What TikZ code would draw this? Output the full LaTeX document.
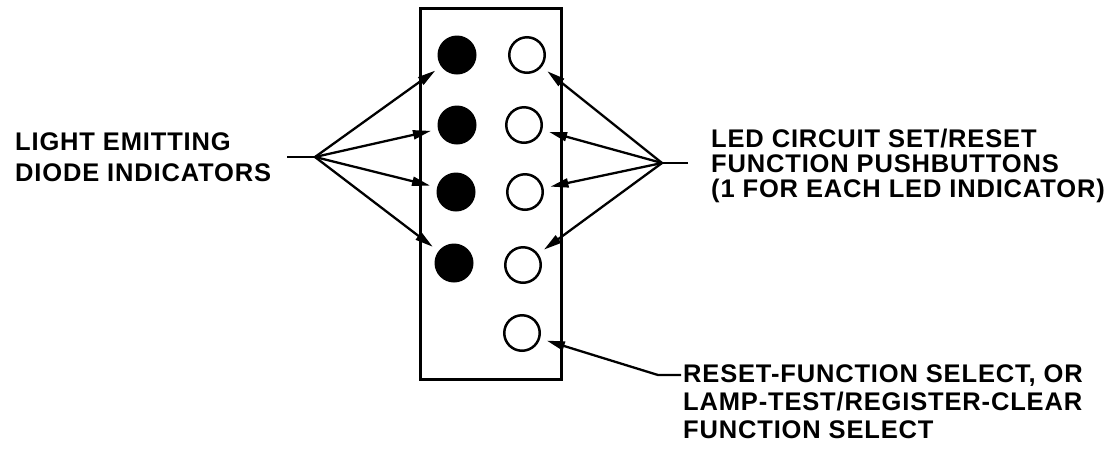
\documentclass[tikz,border=0pt]{standalone}
\usepackage{fontspec}
\setmainfont{Liberation Sans}
\newfontfamily\lblfont[LetterSpace=3.3]{Liberation Sans Bold}
\usetikzlibrary{arrows.meta}
\begin{document}
\begin{tikzpicture}[x=1pt,y=-1pt,
  led/.style={circle,fill=black,minimum size=39pt,inner sep=0pt},
  pb/.style={circle,draw=black,line width=2.5pt,minimum size=35.5pt,inner sep=0pt},
  ptr/.style={line width=2.3pt,-{Triangle[length=18pt,width=9pt]},shorten >=7pt},
  lead/.style={line width=2.3pt},
  lbl/.style={font=\lblfont\fontsize{25.5}{26}\selectfont,anchor=base west,inner sep=0pt}]
\path[fill=white] (0,0) rectangle (1109,451);
\useasboundingbox (0,0) rectangle (1109,451);
% panel
\node[draw,line width=3pt,minimum width=141pt,minimum height=371pt,inner sep=0pt] (panel) at (490.5,193.5) {};
% LEDs
\node[led] (d1) at (457,55) {};
\node[led] (d2) at (457,125) {};
\node[led] (d3) at (456,192) {};
\node[led] (d4) at (454,263) {};
% pushbuttons
\node[pb] (p1) at (527,55) {};
\node[pb] (p2) at (524,125) {};
\node[pb] (p3) at (525,192) {};
\node[pb] (p4) at (523,265) {};
\node[pb] (p5) at (522,333) {};
% labels
\node[lbl] (t1a) at (15,150) {LIGHT EMITTING};
\node[lbl] (t1b) at (15,181) {DIODE INDICATORS};
\node[lbl] (t2a) at (711,147) {LED CIRCUIT SET/RESET};
\node[lbl] (t2b) at (711,172) {FUNCTION PUSHBUTTONS};
\node[lbl] (t2c) at (711,197) {(1 FOR EACH LED INDICATOR)};
\node[lbl] (t3a) at (683,382) {RESET-FUNCTION SELECT, OR};
\node[lbl] (t3b) at (683,410) {LAMP-TEST/REGISTER-CLEAR};
\node[lbl] (t3c) at (683,438) {FUNCTION SELECT};
% fan points
\coordinate (ls) at (287,157);
\coordinate (lf) at (315,157);
\coordinate (rs) at (688,163);
\coordinate (rf) at (662,163);
\coordinate (bs) at (681,375);
\coordinate (bk) at (658,375);
% connectors
\draw[lead] (ls) -- (lf);
\foreach \n in {d1,d2,d3,d4} \draw[ptr] (lf) -- (\n);
\draw[lead] (rs) -- (rf);
\foreach \n in {p1,p2,p3,p4} \draw[ptr] (rf) -- (\n);
\draw[ptr] (bs) -- (bk) -- (p5);
\end{tikzpicture}
\end{document}
